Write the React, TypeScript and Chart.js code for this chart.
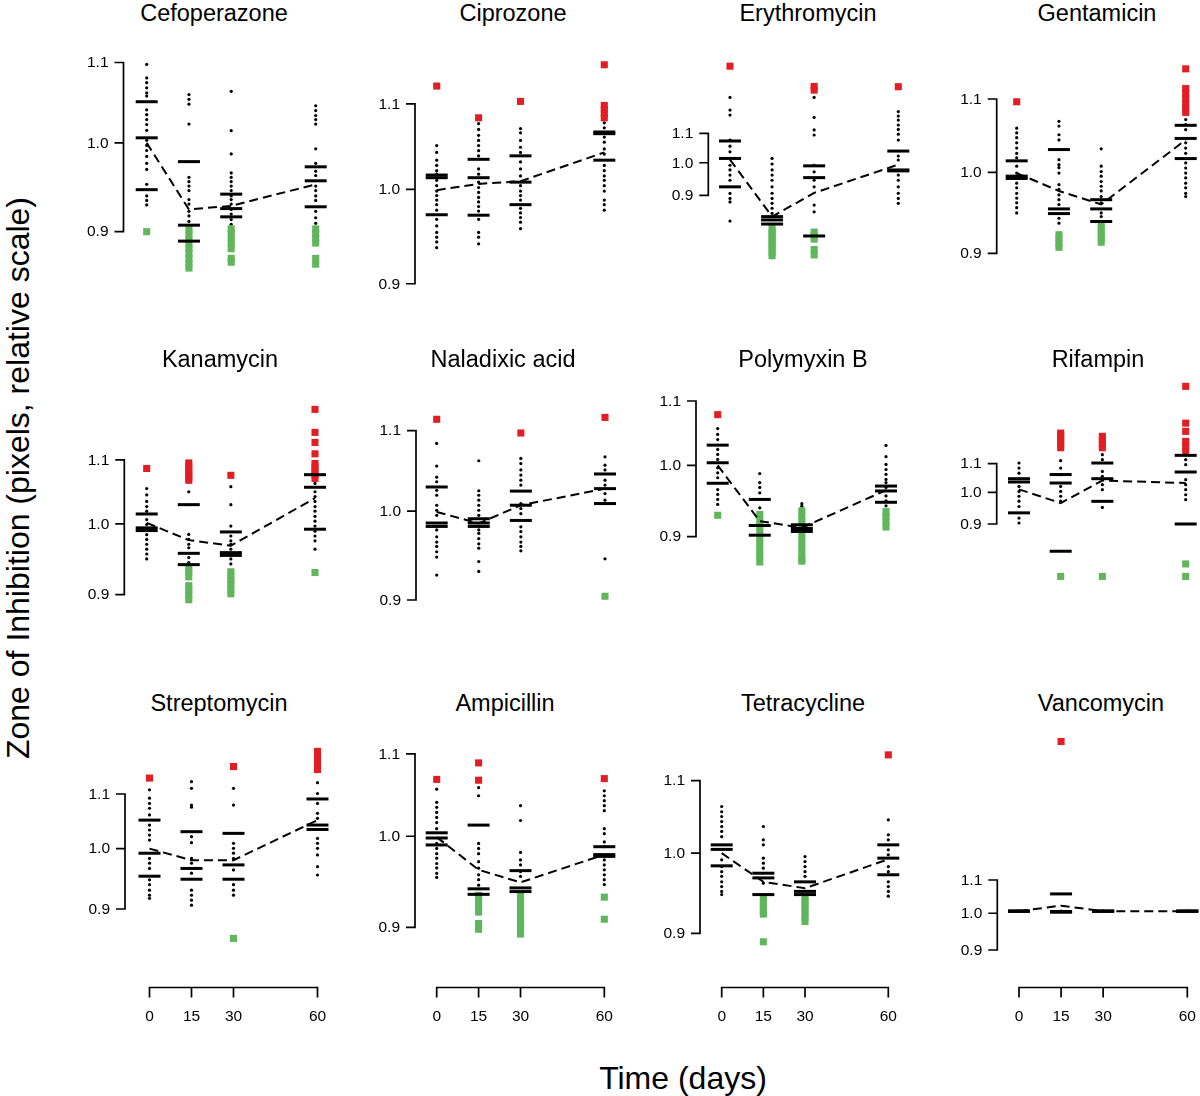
import React, { useEffect, useRef } from "react";
import { Chart, registerables } from "chart.js";

Chart.register(...registerables);

// ---------------- DATA ----------------
const antibiotics = [
  "Cefoperazone", "Ciprozone", "Erythromycin", "Gentamicin",
  "Kanamycin", "Naladixic acid", "Polymyxin B", "Rifampin",
  "Streptomycin", "Ampicillin", "Tetracycline", "Vancomycin",
];
const days = [0, 15, 30, 60];
const yTickValues = [0.9, 1.0, 1.1];
const xTickLabels = ["0", "15", "30", "60"];

// mean of each time point (dashed line)
const meanValues = [
  [1.0, 0.924, 0.928, 0.952],
  [0.999, 1.006, 1.009, 1.042],
  [1.01, 0.84, 0.907, 0.994],
  [0.999, 0.976, 0.959, 1.043],
  [1.0015, 0.976, 0.968, 1.039],
  [0.999, 0.9855, 1.007, 1.027],
  [1.0, 0.921, 0.912, 0.964],
  [1.01, 0.965, 1.04, 1.0315],
  [1.0, 0.98, 0.98, 1.051],
  [0.999, 0.962, 0.948, 0.979],
  [1.0, 0.963, 0.955, 0.992],
  [1.006, 1.022, 1.006, 1.006],
];

// three summary dashes per time point
const dashValues = [
  [[1.05, 1.006, 0.946], [0.978, 0.907, 0.89], [0.941, 0.925, 0.916], [0.972, 0.956, 0.927]],
  [[1.016, 1.013, 0.972], [1.034, 1.013, 0.9715], [1.038, 1.008, 0.983], [1.066, 1.064, 1.033]],
  [[1.073, 1.014, 0.925], [0.84, 0.831, 0.82], [0.99, 0.953, 0.789], [1.0385, 0.977, 0.974]],
  [[1.015, 0.995, 0.992], [1.03, 0.9535, 0.9477], [0.965, 0.9535, 0.938], [1.063, 1.045, 1.018]],
  [[1.0148, 0.994, 0.99], [1.029, 0.957, 0.941], [0.988, 0.958, 0.954], [1.076, 1.056, 0.992]],
  [[1.029, 0.986, 0.982], [0.991, 0.986, 0.982], [1.024, 1.007, 0.989], [1.045, 1.027, 1.009]],
  [[1.0305, 1.004, 0.974], [0.951, 0.915, 0.902], [0.916, 0.911, 0.907], [0.97, 0.963, 0.947]],
  [[1.0465, 1.035, 0.934], [1.061, 1.0315, 0.822], [1.1025, 1.0465, 0.9705], [1.131, 1.07, 0.9]],
  [[1.051, 0.992, 0.953], [1.03, 0.966, 0.948], [1.027, 0.972, 0.948], [1.0905, 1.042, 1.034]],
  [[1.004, 0.998, 0.99], [1.013, 0.941, 0.935], [0.961, 0.942, 0.938], [0.988, 0.979, 0.977]],
  [[1.011, 1.005, 0.9835], [0.974, 0.968, 0.947], [0.963, 0.951, 0.947], [1.011, 0.9935, 0.972]],
  [[1.006, 1.006, 1.006], [1.057, 1.005, 1.003], [1.006, 1.006, 1.006], [1.006, 1.006, 1.006]],
];

// individual measurements (small black dots)
const dotValues = [
  [
    [1.0975, 1.08, 1.074, 1.0675, 1.061, 1.057, 1.04, 1.034, 1.028, 1.022, 1.015, 1.003, 0.997, 0.991, 0.984, 0.976, 0.969, 0.952, 0.939, 0.934, 0.929],
    [1.059, 1.053, 1.047, 1.0225, 0.96, 0.955, 0.95, 0.945, 0.935, 0.93, 0.922, 0.917, 0.911, 0.902],
    [1.063, 1.0146, 0.987, 0.965, 0.96, 0.955, 0.95, 0.945, 0.939, 0.935, 0.93, 0.924, 0.919, 0.913, 0.908],
    [1.045, 1.039, 1.033, 1.028, 1.0225, 0.993, 0.976, 0.967, 0.962, 0.95, 0.945, 0.939, 0.934, 0.922, 0.915, 0.909],
  ],
  [
    [1.05, 1.042, 1.033, 1.027, 1.021, 1.017, 1.01, 1.004, 0.998, 0.993, 0.988, 0.983, 0.977, 0.967, 0.96, 0.953, 0.948, 0.943, 0.937],
    [1.076, 1.069, 1.062, 1.056, 1.05, 1.044, 1.038, 1.023, 1.017, 1.008, 1.002, 0.9965, 0.991, 0.986, 0.981, 0.976, 0.967, 0.953, 0.948, 0.941],
    [1.07, 1.065, 1.056, 1.048, 1.042, 1.031, 1.023, 1.015, 1.004, 0.998, 0.993, 0.988, 0.979, 0.974, 0.969, 0.964, 0.957],
    [1.077, 1.071, 1.06, 1.054, 1.046, 1.04, 1.027, 1.021, 1.015, 1.01, 1.004, 0.998, 0.988, 0.983, 0.977],
  ],
  [
    [1.2355, 1.186, 1.167, 1.076, 1.055, 1.036, 0.992, 0.977, 0.961, 0.945, 0.9055, 0.891, 0.881, 0.828],
    [1.014, 0.996, 0.977, 0.961, 0.945, 0.925, 0.906, 0.891, 0.877, 0.863, 0.849],
    [1.2355, 1.158, 1.112, 1.094, 0.992, 0.971, 0.945, 0.925, 0.872, 0.853],
    [1.18, 1.163, 1.148, 1.13, 1.114, 1.097, 1.076, 1.022, 1.009, 0.961, 0.945, 0.925, 0.906, 0.891, 0.877],
  ],
  [
    [1.059, 1.0525, 1.046, 1.039, 1.032, 1.025, 1.019, 1.008, 0.999, 0.986, 0.98, 0.973, 0.967, 0.961, 0.955, 0.9485],
    [1.0685, 1.062, 1.05, 1.043, 1.0166, 1.01, 1.006, 0.999, 0.984, 0.978, 0.971, 0.965, 0.959, 0.942, 0.936],
    [1.031, 1.008, 1.001, 0.995, 0.988, 0.982, 0.976, 0.969, 0.961, 0.9485, 0.944],
    [1.071, 1.064, 1.057, 1.039, 1.032, 1.025, 1.0122, 1.0056, 0.999, 0.9927, 0.986, 0.98, 0.973, 0.969],
  ],
  [
    [1.054, 1.044, 1.034, 1.026, 1.019, 1.0064, 0.999, 0.992, 0.984, 0.977, 0.97, 0.963, 0.956, 0.949],
    [1.049, 0.9844, 0.977, 0.97, 0.965, 0.951, 0.944],
    [1.057, 1.029, 0.9966, 0.982, 0.975, 0.97, 0.963, 0.949, 0.942],
    [1.062, 1.049, 1.0415, 1.034, 1.026, 1.019, 1.0113, 1.0039, 0.9966, 0.989, 0.982, 0.975, 0.963],
  ],
  [
    [1.0835, 1.0548, 1.041, 1.0354, 1.025, 1.019, 1.007, 1.001, 0.995, 0.978, 0.97, 0.964, 0.959, 0.953, 0.947, 0.927],
    [1.0615, 1.0244, 1.019, 1.013, 1.007, 1.001, 0.995, 0.978, 0.974, 0.968, 0.962, 0.957, 0.942, 0.931],
    [1.0644, 1.058, 1.05, 1.0436, 1.0374, 1.0313, 1.009, 1.003, 0.997, 0.9816, 0.976, 0.97, 0.964, 0.959, 0.954],
    [1.0665, 1.056, 1.05, 1.0374, 1.0313, 1.021, 1.013, 0.945],
  ],
  [
    [1.056, 1.047, 1.039, 1.024, 1.0164, 1.009, 0.9966, 0.9892, 0.982, 0.965, 0.958, 0.951, 0.944],
    [0.988, 0.975, 0.968, 0.9604, 0.9393, 0.932],
    [0.945, 0.9416, 0.935],
    [1.03, 1.013, 1.0015, 0.994, 0.987, 0.9795, 0.975, 0.968, 0.956, 0.949, 0.942],
  ],
  [
    [1.1025, 1.084, 1.066, 1.02, 1.003, 0.987, 0.971, 0.954, 0.918, 0.903],
    [1.111, 1.084, 1.0606, 1.02, 1.003, 0.987, 0.971],
    [1.1335, 1.115, 1.072, 1.0546, 1.026, 1.009, 0.951],
    [1.115, 1.0966, 1.043, 1.026, 1.009, 0.992, 0.976],
  ],
  [
    [1.108, 1.092, 1.082, 1.073, 1.0605, 1.042, 1.033, 1.024, 1.015, 0.983, 0.975, 0.966, 0.947, 0.939, 0.93, 0.922, 0.917],
    [1.124, 1.111, 1.079, 1.075, 1.021, 1.0105, 0.983, 0.975, 0.958, 0.93, 0.922, 0.914, 0.906],
    [1.111, 1.079, 1.0093, 1.0006, 0.992, 0.983, 0.9635, 0.939, 0.93, 0.922],
    [1.122, 1.101, 1.082, 1.0636, 1.0543, 1.018, 1.0093, 1.0006, 0.989, 0.969, 0.955],
  ],
  [
    [1.056, 1.04, 1.034, 1.028, 1.022, 1.016, 1.0088, 0.9917, 0.986, 0.98, 0.975, 0.969, 0.964, 0.958, 0.9535],
    [1.058, 1.048, 0.9917, 0.986, 0.98, 0.971, 0.9637, 0.9564, 0.951, 0.945],
    [1.036, 1.0184, 0.9815, 0.973, 0.9674, 0.96, 0.9546],
    [1.054, 1.048, 1.042, 1.036, 1.03, 1.0088, 1.003, 0.9935, 0.988, 0.973, 0.9674, 0.9619, 0.9564, 0.951, 0.9456],
  ],
  [
    [1.0633, 1.056, 1.0494, 1.0425, 1.0357, 1.029, 1.022, 0.9913, 0.9826, 0.976, 0.97, 0.963, 0.957, 0.951, 0.947],
    [1.0357, 1.0177, 1.011, 0.9935, 0.987, 0.9805, 0.9613],
    [0.9956, 0.989, 0.9826, 0.976, 0.97],
    [1.0448, 1.0244, 1.0177, 1.0044, 0.9978, 0.9826, 0.976, 0.963, 0.957, 0.951, 0.945],
  ],
  [[1.006], [1.006], [1.006], [1.006]],
];

// high outliers (red squares)
const highValues = [
  [[], [], [], []],
  [[1.122], [1.083], [1.103], [1.149, 1.098, 1.093, 1.088, 1.083]],
  [[1.367], [], [1.28, 1.265], [1.279]],
  [[1.096], [], [], [1.144, 1.115, 1.108, 1.101, 1.094, 1.087, 1.081]],
  [[1.086], [1.095, 1.089, 1.083, 1.077, 1.071, 1.067], [1.075], [1.186, 1.146, 1.129, 1.11, 1.094, 1.088, 1.082, 1.076, 1.07]],
  [[1.115], [], [1.097], [1.1175]],
  [[1.078], [], [], []],
  [[], [1.218, 1.205, 1.19, 1.175, 1.16], [1.205, 1.19, 1.175, 1.16], [1.423, 1.259, 1.225, 1.185, 1.166, 1.146]],
  [[1.131], [], [1.154], [1.185, 1.175, 1.165, 1.155, 1.148]],
  [[1.068], [1.0886, 1.067], [], [1.069]],
  [[], [], [], [1.138]],
  [[], [1.636], [], []],
];

// low outliers (green squares)
const lowValues = [
  [[0.9], [0.902, 0.897, 0.892, 0.887, 0.882, 0.877, 0.872, 0.867, 0.862], [0.903, 0.898, 0.893, 0.888, 0.882, 0.872, 0.868], [0.903, 0.898, 0.893, 0.888, 0.872, 0.866]],
  [[], [], [], []],
  [[], [0.808, 0.8, 0.791, 0.782, 0.774, 0.765, 0.757, 0.748, 0.74], [0.799, 0.79, 0.781, 0.755, 0.742], []],
  [[], [0.922, 0.917, 0.912, 0.907], [0.933, 0.928, 0.923, 0.918, 0.913], []],
  [[], [0.936, 0.93, 0.924, 0.912, 0.906, 0.9, 0.893], [0.931, 0.925, 0.919, 0.913, 0.907, 0.901], [0.93]],
  [[], [], [], [0.904]],
  [[0.929], [0.93, 0.922, 0.914, 0.906, 0.898, 0.89, 0.882, 0.874, 0.867], [0.935, 0.927, 0.919, 0.911, 0.903, 0.895, 0.887, 0.879, 0.871, 0.868], [0.934, 0.927, 0.92, 0.913]],
  [[], [0.756], [0.756], [0.788, 0.756]],
  [[], [], [0.855], []],
  [[], [0.934, 0.928, 0.922, 0.916, 0.904, 0.898], [0.934, 0.928, 0.922, 0.916, 0.91, 0.904, 0.898, 0.893], [0.932, 0.9085]],
  [[], [0.942, 0.937, 0.932, 0.927, 0.923, 0.89], [0.944, 0.939, 0.934, 0.929, 0.924, 0.919, 0.914], []],
  [[], [], [], []],
];

// ---------------- LAYOUT (page pixels) ----------------
const panelLayout = [
  { x0: 146.7, x60: 315.7, axisX: 123.5, yHi: 62.5, yLo: 231.7, row: 0, titleX: 214 },
  { x0: 436.7, x60: 604.3, axisX: 415, yHi: 105, yLo: 287.7, row: 0, titleX: 513 },
  { x0: 730, x60: 898.3, axisX: 708.3, yHi: 133.3, yLo: 195.3, row: 0, titleX: 808 },
  { x0: 1016.7, x60: 1185.7, axisX: 996.7, yHi: 99, yLo: 253.3, row: 0, titleX: 1097 },
  { x0: 146.7, x60: 315, axisX: 124.3, yHi: 461, yLo: 597.3, row: 1, titleX: 220 },
  { x0: 436.7, x60: 605, axisX: 416, yHi: 430.7, yLo: 600, row: 1, titleX: 503 },
  { x0: 717.7, x60: 886, axisX: 696, yHi: 401, yLo: 536.7, row: 1, titleX: 803 },
  { x0: 1019, x60: 1185.7, axisX: 996.7, yHi: 463.7, yLo: 524, row: 1, titleX: 1098 },
  { x0: 149.5, x60: 317.5, axisX: 125, yHi: 794, yLo: 909, row: 2, titleX: 219 },
  { x0: 436.7, x60: 604.3, axisX: 415, yHi: 754.3, yLo: 930, row: 2, titleX: 505 },
  { x0: 721.7, x60: 888.3, axisX: 700, yHi: 780.7, yLo: 933.3, row: 2, titleX: 803 },
  { x0: 1019, x60: 1187.3, axisX: 997.3, yHi: 880, yLo: 950, row: 2, titleX: 1101 },
];
const rowBox = [
  { top: 28, bottom: 335, titleY: 13 },
  { top: 368, bottom: 682, titleY: 359 },
  { top: 722, bottom: 1040, titleY: 703 },
];
const X_AXIS_Y = 987.5;
const X_LABEL_Y = 1017;
const RED = "rgb(226,30,36)";
const GREEN = "rgb(96,182,90)";
const FONT = '"Liberation Sans", Arial, Helvetica, sans-serif';

const rAxesPlugin = {
  id: "rAxes",
  beforeDatasetsDraw(chart: any, _args: any, opts: any) {
    const { ctx, scales } = chart;
    const xs = scales.x;
    const ys = scales.y;
    ctx.save();
    ctx.strokeStyle = "#000";
    ctx.fillStyle = "#000";
    ctx.lineWidth = 1.7;
    ctx.lineCap = "butt";
    ctx.font = `15.5px ${FONT}`;
    const ax = opts.axisX;
    const pTop = ys.getPixelForValue(yTickValues[yTickValues.length - 1]);
    const pBot = ys.getPixelForValue(yTickValues[0]);
    ctx.beginPath();
    ctx.moveTo(ax, pTop);
    ctx.lineTo(ax, pBot);
    yTickValues.forEach((t) => {
      const p = ys.getPixelForValue(t);
      ctx.moveTo(ax - 9, p);
      ctx.lineTo(ax + 0.85, p);
    });
    ctx.stroke();
    ctx.textAlign = "right";
    ctx.textBaseline = "middle";
    yTickValues.forEach((t) => {
      ctx.fillText(t.toFixed(1), ax - 15, ys.getPixelForValue(t) + 0.5);
    });
    if (opts.showX) {
      const y = opts.xAxisY;
      const a = xs.getPixelForValue(days[0]);
      const b = xs.getPixelForValue(days[days.length - 1]);
      ctx.beginPath();
      ctx.moveTo(a, y);
      ctx.lineTo(b, y);
      days.forEach((d) => {
        const p = xs.getPixelForValue(d);
        ctx.moveTo(p, y - 0.85);
        ctx.lineTo(p, y + 10);
      });
      ctx.stroke();
      ctx.textAlign = "center";
      ctx.textBaseline = "middle";
      days.forEach((d, i) => {
        ctx.fillText(xTickLabels[i], xs.getPixelForValue(d), opts.xLabelY);
      });
    }
    ctx.restore();
  },
};

function Panel({ index }: { index: number }) {
  const ref = useRef<HTMLCanvasElement>(null);
  const lay = panelLayout[index];
  const row = rowBox[lay.row];
  const left = Math.round(lay.axisX - 56);
  const right = Math.min(1200, Math.round(lay.x60 + 16));
  const width = right - left;
  const top = row.top;
  const height = row.bottom - row.top;

  useEffect(() => {
    const K = (lay.yLo - lay.yHi) / Math.log(1.1 / 0.9);
    const yMid = lay.yHi + K * Math.log(1.1);
    const yMax = Math.exp((yMid - top) / K);
    const yMin = Math.exp((yMid - top - height) / K);
    const ppd = (lay.x60 - lay.x0) / 60;
    const xMin = -(lay.x0 - left) / ppd;
    const xMax = 60 + (right - lay.x60) / ppd;
    const pts = (groups: number[][]) =>
      groups.flatMap((vals, d) => vals.map((v) => ({ x: days[d], y: v })));

    const chart = new Chart(ref.current as HTMLCanvasElement, {
      type: "scatter",
      data: {
        datasets: [
          {
            type: "line",
            data: meanValues[index].map((v, d) => ({ x: days[d], y: v })),
            borderColor: "#000",
            borderWidth: 2,
            borderDash: [9, 5],
            pointRadius: 0,
            showLine: true,
            fill: false,
            tension: 0,
          } as any,
          {
            data: pts(dashValues[index]),
            pointStyle: "line",
            pointRadius: 11,
            pointBorderWidth: 3,
            pointBorderColor: "#000",
            pointBackgroundColor: "#000",
            borderColor: "#000",
            borderWidth: 3,
          },
          {
            data: pts(highValues[index]),
            pointStyle: "rect",
            pointRadius: 5,
            pointBorderWidth: 0,
            borderWidth: 0,
            pointBackgroundColor: RED,
            backgroundColor: RED,
          },
          {
            data: pts(lowValues[index]),
            pointStyle: "rect",
            pointRadius: 5,
            pointBorderWidth: 0,
            borderWidth: 0,
            pointBackgroundColor: GREEN,
            backgroundColor: GREEN,
          },
          {
            data: pts(dotValues[index]),
            pointStyle: "circle",
            pointRadius: 1.6,
            pointBorderWidth: 0,
            borderWidth: 0,
            pointBackgroundColor: "#000",
            backgroundColor: "#000",
          },
        ],
      },
      options: {
        animation: false,
        responsive: false,
        maintainAspectRatio: false,
        devicePixelRatio: 1,
        events: [],
        layout: { padding: 0, autoPadding: false },
        scales: {
          x: { type: "linear", display: false, min: xMin, max: xMax },
          y: { type: "logarithmic", display: false, min: yMin, max: yMax },
        },
        plugins: {
          legend: { display: false },
          tooltip: { enabled: false },
          title: { display: false },
          rAxes: {
            axisX: lay.axisX - left,
            showX: lay.row === 2,
            xAxisY: X_AXIS_Y - top,
            xLabelY: X_LABEL_Y - top,
          },
        } as any,
      } as any,
      plugins: [rAxesPlugin],
    });
    return () => chart.destroy();
  }, []);

  return (
    <>
      <canvas
        ref={ref}
        width={width}
        height={height}
        style={{ position: "absolute", left, top, width, height }}
      />
      <div
        style={{
          position: "absolute",
          left: lay.titleX,
          top: row.titleY,
          transform: "translate(-50%, -50%)",
          fontFamily: FONT,
          fontSize: 23.5,
          lineHeight: "28px",
          whiteSpace: "nowrap",
          color: "#000",
        }}
      >
        {antibiotics[index]}
      </div>
    </>
  );
}

export default function App() {
  return (
    <div
      style={{
        position: "absolute",
        left: 0,
        top: 0,
        width: 1200,
        height: 1096,
        background: "#fff",
        overflow: "hidden",
      }}
    >
      {antibiotics.map((_, i) => (
        <Panel key={i} index={i} />
      ))}
      <div
        style={{
          position: "absolute",
          left: 18,
          top: 478,
          transform: "translate(-50%, -50%) rotate(-90deg)",
          fontFamily: FONT,
          fontSize: 32,
          lineHeight: "36px",
          whiteSpace: "nowrap",
        }}
      >
        Zone of Inhibition (pixels, relative scale)
      </div>
      <div
        style={{
          position: "absolute",
          left: 683,
          top: 1078,
          transform: "translate(-50%, -50%)",
          fontFamily: FONT,
          fontSize: 32,
          lineHeight: "36px",
          whiteSpace: "nowrap",
        }}
      >
        Time (days)
      </div>
    </div>
  );
}
